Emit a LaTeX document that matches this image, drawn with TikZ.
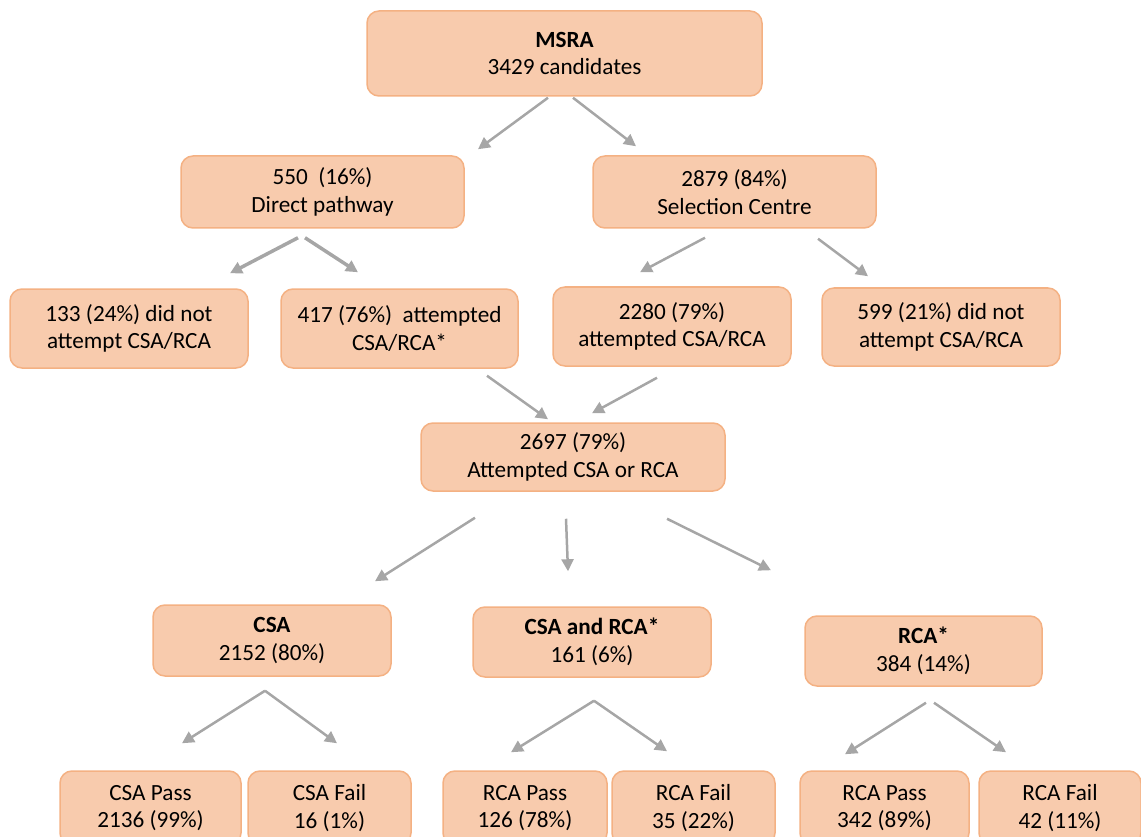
\documentclass[tikz,border=0pt]{standalone}
\usepackage{fontspec}
\setmainfont{Carlito}
\usepackage{tikz}
\usetikzlibrary{calc,arrows.meta,positioning}
\definecolor{boxfill}{HTML}{F8CBAD}
\definecolor{boxline}{HTML}{F4B183}
\definecolor{arrgray}{HTML}{A6A6A6}

\begin{document}
\begin{tikzpicture}[x=1pt,y=-1pt,
	box/.style={draw=boxline,fill=boxfill,line width=1.5pt,rounded corners=12pt,align=center,inner sep=0pt,font=\fontsize{23.2}{27.5}\selectfont},
	arr/.style={draw=arrgray,line width=2.5pt,-{Triangle[length=12pt,width=12pt]}}]
			\useasboundingbox (0,0) rectangle (1141,837);
			\clip (0,0) rectangle (1141,837);
			% top levels
			\node[box,minimum width=395pt,minimum height=85pt] (msra) at (564.5,53.5) {\textbf{MSRA}\\3429 candidates};
			\node[box,minimum width=283pt,minimum height=72pt] (direct) at (322.5,192) {550\ \ (16\%)\\Direct pathway};
			\node[box,minimum width=283pt,minimum height=72pt] (select) at (734.5,192) {2879 (84\%)\\Selection Centre};
			\node[box,minimum width=238pt,minimum height=79pt] (nodir) at (129,328.5) {133 (24\%) did not\\attempt CSA/RCA};
			\node[box,minimum width=237pt,minimum height=79pt] (dirat) at (399.5,328.5) {417 (76\%)\ \ attempted\\CSA/RCA*};
			\node[box,minimum width=238pt,minimum height=79pt] (scat) at (672,326.5) {2280 (79\%)\\attempted CSA/RCA};
			\node[box,minimum width=238pt,minimum height=78pt] (nosc) at (941,327) {599 (21\%) did not\\attempt CSA/RCA};
			\node[box,minimum width=304pt,minimum height=68pt] (att) at (573,457) {2697 (79\%)\\Attempted CSA or RCA};
			% exam routes
			\node[box,minimum width=238pt,minimum height=71pt] (csa) at (272,640.5) {\textbf{CSA}\\2152 (80\%)};
			\node[box,minimum width=238pt,minimum height=70pt] (both) at (592,642) {\textbf{CSA and RCA*}\\161 (6\%)};
			\node[box,minimum width=237pt,minimum height=70pt] (rca) at (923.5,651) {\textbf{RCA*}\\384 (14\%)};
			% outcomes
			\foreach \n/\x/\w/\t/\v in {csap/150.5/181/{CSA Pass}/{2136 (99\%)},csaf/329.5/163/{CSA Fail}/{16 (1\%)},
				bothp/525/164/{RCA Pass}/{126 (78\%)},bothf/693.5/163/{RCA Fail}/{35 (22\%)},
				rcap/884.5/169/{RCA Pass}/{342 (89\%)},rcaf/1060/162/{RCA Fail}/{42 (11\%)}}
			\node[box,minimum width=\w pt,minimum height=74pt] (\n) at (\x,808) {\t\\\v};
			
			\draw[arr] ($(msra.south)+(-16.5,1)$) -- ($(direct.north)+(155.5,-6)$);
			\draw[arr] ($(msra.south)+(8.5,1)$) -- ($(select.north)+(-98.5,-9)$);
			\draw[arr,line width=3.5pt] ($(direct.south)+(-24.5,9)$) -- ($(nodir.north)+(101,-15)$);
			\draw[arr,line width=3.5pt] ($(direct.south)+(-17.5,9)$) -- ($(dirat.north)+(-41.5,-16)$);
			\draw[arr] ($(select.south)+(-29.5,9)$) -- ($(scat.north)+(-32,-14)$);
			\draw[arr] ($(select.south)+(83.5,10)$) -- ($(nosc.north)+(-73,-11)$);
			\draw[arr] ($(dirat.south)+(87.5,7)$) -- ($(att.north)+(-25,-3)$);
			\draw[arr] ($(scat.south)+(-15,11)$) -- ($(att.north)+(19,-9)$);
			\draw[arr] ($(att.south)+(-98,26)$) -- ($(csa.north)+(103,-23)$);
			\draw[arr] ($(att.south)+(-7,27)$) -- ($(both.north)+(-24,-35)$);
			\draw[arr] ($(att.south)+(94,27)$) -- ($(rca.north)+(-152.5,-45)$);
			\draw[arr] ($(csa.south)+(-7,14)$) -- ($(csap.north)+(31.5,-27)$);
			\draw[arr] ($(csa.south)+(-7,14)$) -- ($(csaf.north)+(7.5,-27)$);
			\draw[arr] ($(both.south)+(2,23)$) -- ($(bothp.north)+(-14,-18)$);
			\draw[arr] ($(both.south)+(2,23)$) -- ($(bothf.north)+(-26.5,-19)$);
			\draw[arr] ($(rca.south)+(2.5,16)$) -- ($(rcap.north)+(-39.5,-16)$);
			\draw[arr] ($(rca.south)+(10.5,16)$) -- ($(rcaf.north)+(-54,-18)$);
		\end{tikzpicture}
\end{document}
